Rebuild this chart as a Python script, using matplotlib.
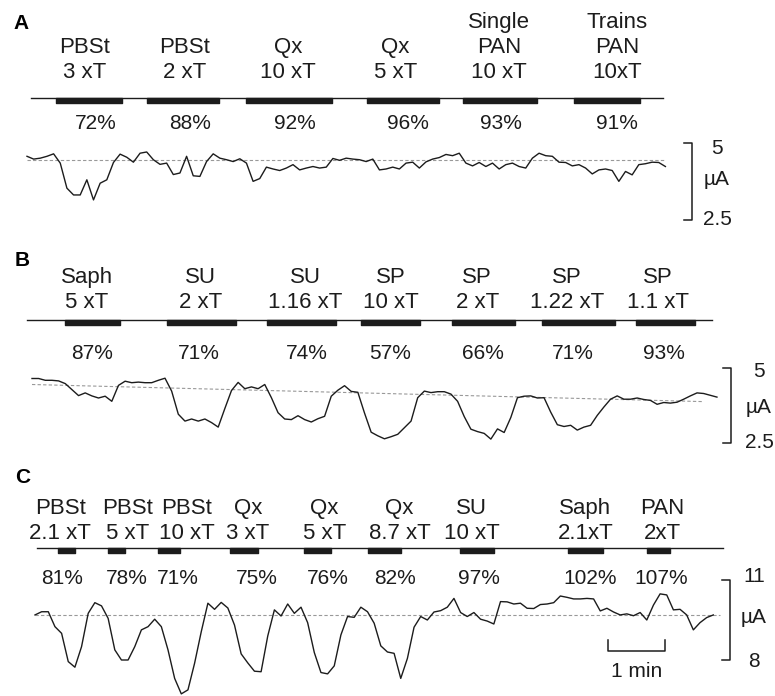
import numpy as np
import matplotlib
matplotlib.use('Agg')
import matplotlib.pyplot as plt

plt.rcParams['font.family'] = ['Liberation Sans', 'DejaVu Sans']

###DATA###
DT = 7.0

# A
a_labels = ['PBSt\n3 xT', 'PBSt\n2 xT', 'Qx\n10 xT', 'Qx\n5 xT', 'Single\nPAN\n10 xT', 'Trains\nPAN\n10xT']
a_stim = [(30, 100), (126, 202), (230, 321), (358, 434), (459, 537), (576, 645)]  # s
a_pct = ['72%', '88%', '92%', '96%', '93%', '91%']
a_trace = [4.56, 4.47, 4.50, 4.56, 4.64, 4.34, 3.53, 3.31, 3.31, 3.80, 3.15, 3.69, 3.80, 4.36, 4.63,
           4.53, 4.37, 4.66, 4.70, 4.45, 4.30, 4.34, 3.97, 4.02, 4.56, 3.93, 3.91, 4.39, 4.64, 4.50,
           4.45, 4.39, 4.48, 4.34, 3.75, 3.84, 4.21, 4.15, 4.10, 4.18, 4.29, 4.12, 4.18, 4.23, 4.18,
           4.21, 4.49, 4.43, 4.50, 4.47, 4.45, 4.39, 4.47, 4.12, 4.15, 4.21, 4.15, 4.34, 4.37, 4.18,
           4.38, 4.47, 4.52, 4.62, 4.58, 4.66, 4.34, 4.25, 4.36, 4.23, 4.34, 4.15, 4.29, 4.34, 4.23,
           4.18, 4.50, 4.66, 4.58, 4.56, 4.37, 4.36, 4.25, 4.29, 4.18, 3.99, 4.12, 4.15, 4.10, 3.75,
           4.07, 3.96, 4.29, 4.32, 4.37, 4.36, 4.23]  # uA
a_base = [4.43, 4.43]  # baseline at start / end of trace
a_scale = [5, 2.5]

# B
b_labels = ['Saph\n5 xT', 'SU\n2 xT', 'SU\n1.16 xT', 'SP\n10 xT', 'SP\n2 xT', 'SP\n1.22 xT', 'SP\n1.1 xT']
b_stim = [(35, 93), (142, 215), (247, 320), (346, 408), (442, 508), (537, 614), (636, 698)]
b_pct = ['87%', '71%', '74%', '57%', '66%', '71%', '93%']
b_trace = [4.66, 4.66, 4.60, 4.60, 4.58, 4.49, 4.29, 4.09, 4.18, 4.08, 4.01, 4.07, 3.90, 4.43, 4.57,
           4.52, 4.54, 4.52, 4.52, 4.60, 4.67, 4.24, 3.47, 3.24, 3.31, 3.24, 3.31, 3.19, 3.04, 3.66,
           4.26, 4.53, 4.32, 4.38, 4.32, 4.46, 4.02, 3.52, 3.31, 3.29, 3.42, 3.29, 3.21, 3.32, 3.40,
           4.07, 4.27, 4.42, 4.23, 4.20, 3.51, 2.87, 2.75, 2.65, 2.72, 2.80, 3.02, 3.24, 4.02, 4.24,
           4.19, 4.22, 4.22, 4.14, 3.90, 3.39, 2.97, 2.89, 2.83, 2.64, 2.98, 2.86, 3.36, 4.02, 4.07,
           4.08, 4.01, 4.02, 3.54, 3.12, 3.06, 3.10, 2.94, 3.04, 3.10, 3.43, 3.71, 3.97, 4.08, 3.97,
           3.97, 4.01, 3.96, 3.93, 3.80, 3.86, 3.84, 3.87, 3.97, 4.08, 4.18, 4.16, 4.10, 4.04]
b_base = [4.46, 3.89]
b_scale = [5, 2.5]

# C
c_labels = ['PBSt\n2.1 xT', 'PBSt\n5 xT', 'PBSt\n10 xT', 'Qx\n3 xT', 'Qx\n5 xT', 'Qx\n8.7 xT',
            'SU\n10 xT', 'Saph\n2.1xT', 'PAN\n2xT']
c_stim = [(24, 42), (77, 95), (129, 153), (205, 235), (283, 312), (351, 385), (447, 483), (561, 598), (644, 668)]
c_pct = ['81%', '78%', '71%', '75%', '76%', '82%', '97%', '102%', '107%']
c_trace = [9.69, 9.81, 9.81, 9.25, 9.00, 7.94, 7.73, 8.50, 9.75, 10.15, 10.03, 9.56, 8.38, 8.00, 8.00,
           8.50, 9.13, 9.25, 9.53, 9.25, 8.38, 7.31, 6.73, 6.88, 7.88, 9.06, 10.13, 9.90, 10.16, 9.95,
           9.31, 8.23, 7.89, 7.58, 7.56, 8.90, 9.88, 9.65, 10.10, 9.75, 9.98, 9.40, 8.28, 7.53, 7.48,
           7.78, 8.94, 9.63, 9.60, 9.98, 9.81, 9.38, 8.53, 8.30, 8.25, 7.31, 8.06, 9.23, 9.63, 9.50,
           9.80, 9.85, 9.98, 10.31, 9.78, 9.63, 9.78, 9.53, 9.46, 9.35, 10.19, 10.18, 10.10, 10.13, 9.94,
           9.93, 10.08, 10.10, 10.15, 10.40, 10.35, 10.29, 10.29, 10.31, 10.29, 9.84, 9.94, 9.80, 9.69, 9.73,
           9.66, 9.78, 9.50, 10.06, 10.48, 10.44, 9.88, 9.90, 9.69, 9.13, 9.40, 9.59, 9.69]
c_base = [9.69, 9.69]
c_scale = [11, 8]
c_timebar = (603, 60)  # start, length (s)

###LAYOUT### (pixel positions on the 775 x 696 canvas)
W, H = 775, 696
SEC_PER_PX = 60 / 57.0
INK = '#1c1c1c'
FS_LAB = 16
FS = 15

panels = [
    dict(name='A', labels=a_labels, stim=a_stim, pct=a_pct, trace=a_trace, base=a_base, scale=a_scale,
         band=(0, 232), x0=27, scale_px=(142.7, 220), letter=(13, 29), lab_base=78, line_y=97.7,
         line_x=(31, 663), bar_h=5.5, pct_base=129, bracket_x=692, blab_x=717, blab_y=(154, 185, 225),
         lab_dx=[-4, 2, -1, -8, -1, 10], pct_dx=[7, 7, 6, 5, 1, 10], base_end=665),
    dict(name='B', labels=b_labels, stim=b_stim, pct=b_pct, trace=b_trace, base=b_base, scale=b_scale,
         band=(232, 458), x0=32, scale_px=(368.3, 443.3), letter=(15, 266), lab_base=308, line_y=320,
         line_x=(27, 712), bar_h=5, pct_base=359, bracket_x=731, blab_x=759, blab_y=(377, 413, 448),
         lab_dx=[-6, -1, 4, 1, -6, -12, -8], pct_dx=[-1, -3, 5, 0, 0, -6, -2], base_end=703),
    dict(name='C', labels=c_labels, stim=c_stim, pct=c_pct, trace=c_trace, base=c_base, scale=c_scale,
         band=(458, 696), x0=35, scale_px=(580, 660), letter=(15, 483), lab_base=539, line_y=548.3,
         line_x=(37, 723), bar_h=4.5, pct_base=584, bracket_x=730, blab_x=754, blab_y=(582, 623, 667),
         lab_dx=[-6, 11, 18, 4, 7, 15, -5, 0, 4], pct_dx=[-4, 10, 9, 13, 10, 10, 2, 5, 3], base_end=720),
]

fig = plt.figure(figsize=(W / 100, H / 100), dpi=100)


def draw_panel(p):
    top, bottom = p['band']
    x0 = p['x0']
    vtop, vbot = p['scale']
    ptop, pbot = p['scale_px']
    ppu = (pbot - ptop) / (vtop - vbot)

    def tx(px):
        return (px - x0) * SEC_PER_PX

    def vy(py):
        return vtop - (py - ptop) / ppu

    ax = fig.add_axes([0, 1 - bottom / H, 1, (bottom - top) / H])
    ax.set_xlim(tx(0), tx(W))
    ax.set_ylim(vy(bottom), vy(top))
    ax.axis('off')

    # current trace and dashed baseline
    t = np.arange(len(p['trace'])) * DT
    ax.plot([0, tx(p['base_end'])], p['base'], color='#999999', lw=0.8, ls=(0, (3, 2)))
    ax.plot(t, p['trace'], color=INK, lw=1.0, solid_joinstyle='round')

    # stimulation time line with bars
    ax.plot([tx(p['line_x'][0]), tx(p['line_x'][1])], [vy(p['line_y'])] * 2, color=INK, lw=1.0)
    ax.broken_barh([(s, e - s) for s, e in p['stim']], (vy(p['line_y'] + p['bar_h']), p['bar_h'] / ppu),
                   color=INK)

    for (s, e), lab, pc, dl, dp in zip(p['stim'], p['labels'], p['pct'], p['lab_dx'], p['pct_dx']):
        c = (s + e) / 2
        ax.text(c + dl * SEC_PER_PX, vy(p['lab_base']), lab, ha='center', va='baseline',
                fontsize=FS_LAB, color=INK, linespacing=1.26, multialignment='center')
        ax.text(c + dp * SEC_PER_PX, vy(p['pct_base']), pc, ha='center', va='baseline',
                fontsize=FS, color=INK)

    ax.text(tx(p['letter'][0]), vy(p['letter'][1]), p['name'], ha='left', va='baseline',
            fontsize=15, fontweight='bold', color='black')

    # current scale bracket
    bx = tx(p['bracket_x'])
    tick = 8 * SEC_PER_PX
    ax.plot([bx - tick, bx, bx, bx - tick], [vtop, vtop, vbot, vbot], color=INK, lw=1.1)
    for txt, py in zip([('%g' % vtop), u'\u00b5A', ('%g' % vbot)], p['blab_y']):
        ax.text(tx(p['blab_x']), vy(py), txt, ha='center', va='baseline', fontsize=FS, color=INK)
    return ax, tx, vy


for p in panels:
    ax, tx, vy = draw_panel(p)

# time scale bar in C
t0, tl = c_timebar
ax.plot([t0, t0, t0 + tl, t0 + tl], [vy(640), vy(651), vy(651), vy(640)], color=INK, lw=1.1)
ax.text(t0 + tl / 2, vy(677), '1 min', ha='center', va='baseline', fontsize=FS, color=INK)

plt.savefig('out.png', dpi=100)
plt.close()
